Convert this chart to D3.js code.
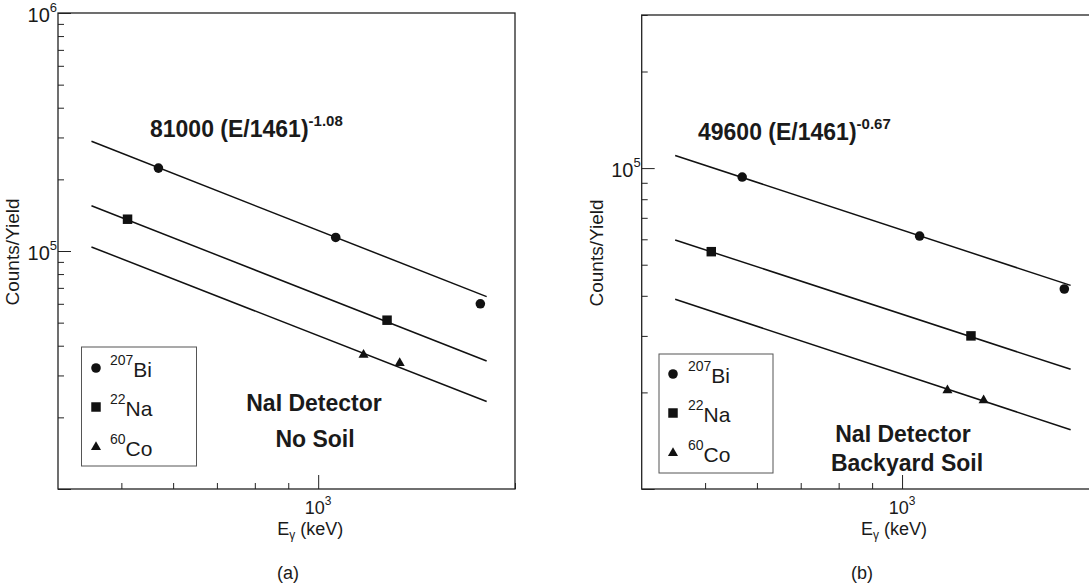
<!DOCTYPE html>
<html lang="en">
<head>
<meta charset="utf-8">
<title>Counts/Yield vs gamma energy</title>
<script src="https://d3js.org/d3.v7.min.js"></script>
<style>
  body { margin: 0; background: #fff; }
  text { font-family: "Liberation Sans", Arial, Helvetica, sans-serif; fill: #1a1a1a; }
</style>
</head>
<body>
<script>
// gamma line energies (keV)
const energyBi = [569.7, 1063.7, 1770.2];
const energyNa = [511.0, 1274.5];
const energyCo = [1173.2, 1332.5];

// (a) NaI detector, no soil - counts/yield
const noSoilBi = [223000, 114000, 60000];
const noSoilNa = [136000, 51200];
const noSoilCo = [36600, 33800];

// (b) NaI detector, backyard soil - counts/yield
const soilBi = [93800, 61400, 42000];
const soilNa = [54900, 30000];
const soilCo = [20300, 18900];

// fitted power-law lines, read at both ends
const fitEnergy = [450, 1810];
const noSoilFitBi = [289000, 64300];
const noSoilFitNa = [155000, 34500];
const noSoilFitCo = [104000, 23300];
const soilFitBi = [109500, 43100];
const soilFitNa = [59700, 23600];
const soilFitCo = [39000, 15300];

// ticks
const xMajorTicks = [1000];
const xMinorTicks = [500, 600, 700, 800, 900, 2000];
const yMajorTicksA = [1e4, 1e5, 1e6];
const yLabelTicksA = [1e5, 1e6];
const yMajorTicksB = [1e4, 1e5];
const yLabelTicksB = [1e5];

const isotopes = [
  { sup: "207", name: "Bi", symbol: d3.symbolCircle, size: 72 },
  { sup: "22", name: "Na", symbol: d3.symbolSquare, size: 90 },
  { sup: "60", name: "Co", symbol: d3.symbolTriangle, size: 44 }
];

const panels = [
  {
    left: 58, top: 13, right: 515, bottom: 489,
    yDomain: [1e4, 1e6], yMajor: yMajorTicksA, yLabels: yLabelTicksA,
    points: [noSoilBi, noSoilNa, noSoilCo],
    fits: [noSoilFitBi, noSoilFitNa, noSoilFitCo],
    formula: { x: 150, y: 137, main: "81000 (E/1461)", sup: "-1.08" },
    legend: { x: 81.5, y: 347, w: 115, h: 119, mx: 96, tx: 110, rows: [377, 416, 456] },
    notes: [{ x: 314, y: 411, t: "NaI Detector" }, { x: 315, y: 447, t: "No Soil" }],
    caption: { x: 288, t: "(a)" }
  },
  {
    left: 641.7, top: 15, right: 1099, bottom: 489,
    yDomain: [1e4, 3e5], yMajor: yMajorTicksB, yLabels: yLabelTicksB,
    points: [soilBi, soilNa, soilCo],
    fits: [soilFitBi, soilFitNa, soilFitCo],
    formula: { x: 698, y: 140, main: "49600 (E/1461)", sup: "-0.67" },
    legend: { x: 659, y: 354, w: 114, h: 119, mx: 673, tx: 688, rows: [383, 422, 462] },
    notes: [{ x: 903, y: 442, t: "NaI Detector" }, { x: 907, y: 471, t: "Backyard Soil" }],
    caption: { x: 862, t: "(b)" }
  }
];

const energies = [energyBi, energyNa, energyCo];

const svg = d3.select("body")
  .append("svg")
    .attr("width", 1089)
    .attr("height", 586)
    .style("background-color", "#FFFFFF");

panels.forEach(function(p) {
  const x = d3.scaleLog().domain([400, 2000]).range([p.left, p.right]);
  const y = d3.scaleLog().domain(p.yDomain).range([p.bottom, p.top]);
  const g = svg.append("g");

  // frame
  g.append("rect")
    .attr("x", p.left).attr("y", p.top)
    .attr("width", p.right - p.left).attr("height", p.bottom - p.top)
    .attr("fill", "none").attr("stroke", "#222").attr("stroke-width", 1.3);

  // y ticks (inward)
  const yMinor = y.ticks().filter(v => !p.yMajor.includes(v));
  g.append("g")
    .attr("transform", `translate(${p.left},0)`)
    .attr("color", "#222")
    .call(d3.axisLeft(y).tickValues(yMinor).tickSize(-6).tickFormat(""))
    .call(a => a.select(".domain").remove());
  g.append("g")
    .attr("transform", `translate(${p.left},0)`)
    .attr("color", "#222")
    .call(d3.axisLeft(y).tickValues(p.yMajor).tickSize(-13).tickFormat(""))
    .call(a => a.select(".domain").remove());

  // x ticks (inward)
  g.append("g")
    .attr("transform", `translate(0,${p.bottom})`)
    .attr("color", "#222")
    .call(d3.axisBottom(x).tickValues(xMinorTicks).tickSize(-6).tickFormat(""))
    .call(a => a.select(".domain").remove());
  g.append("g")
    .attr("transform", `translate(0,${p.bottom})`)
    .attr("color", "#222")
    .call(d3.axisBottom(x).tickValues(xMajorTicks).tickSize(-14).tickFormat(""))
    .call(a => a.select(".domain").remove());

  // power-of-ten labels
  p.yLabels.forEach(function(v) {
    const t = g.append("text")
      .attr("x", p.left - 1).attr("y", y(v) + 9)
      .attr("text-anchor", "end").style("font-size", "20px")
      .text("10");
    t.append("tspan").attr("dy", -10).style("font-size", "13px").text(Math.round(Math.log10(v)));
  });
  xMajorTicks.forEach(function(v) {
    const t = g.append("text")
      .attr("x", x(v)).attr("y", p.bottom + 25)
      .attr("text-anchor", "middle").style("font-size", "18px")
      .text("10");
    t.append("tspan").attr("dy", -9).style("font-size", "12px").text(Math.round(Math.log10(v)));
  });

  // axis titles
  g.append("text")
    .attr("transform", `translate(${p.left - 39},${(p.top + p.bottom) / 2 + 1}) rotate(-90)`)
    .attr("text-anchor", "middle").style("font-size", "19px")
    .text("Counts/Yield");
  const xl = g.append("text")
    .attr("x", x(1000) - 8).attr("y", p.bottom + 46)
    .attr("text-anchor", "middle").style("font-size", "18px")
    .text("E");
  xl.append("tspan").attr("dy", 4).style("font-size", "12px").text("γ");
  xl.append("tspan").attr("dy", -4).text(" (keV)");

  // fit lines
  const line = d3.line().x(d => x(d[0])).y(d => y(d[1]));
  p.fits.forEach(function(f) {
    g.append("path")
      .datum(fitEnergy.map((e, i) => [e, f[i]]))
      .attr("d", line)
      .attr("fill", "none").attr("stroke", "#111").attr("stroke-width", 1.5);
  });

  // data points
  p.points.forEach(function(vals, k) {
    const iso = isotopes[k];
    g.selectAll(null)
      .data(vals.map((v, i) => [energies[k][i], v]))
      .join("path")
      .attr("transform", d => `translate(${x(d[0])},${y(d[1])})`)
      .attr("d", d3.symbol(iso.symbol, iso.size))
      .attr("fill", "#111");
  });

  // formula
  const ft = g.append("text")
    .attr("x", p.formula.x).attr("y", p.formula.y)
    .style("font-size", "23px").style("font-weight", 700)
    .text(p.formula.main);
  ft.append("tspan").attr("dy", -11).style("font-size", "15px").text(p.formula.sup);

  // legend
  const L = p.legend;
  g.append("rect")
    .attr("x", L.x).attr("y", L.y).attr("width", L.w).attr("height", L.h)
    .attr("fill", "#fff").attr("stroke", "#555").attr("stroke-width", 1);
  isotopes.forEach(function(iso, i) {
    g.append("path")
      .attr("transform", `translate(${L.mx},${L.rows[i] - 9})`)
      .attr("d", d3.symbol(iso.symbol, iso.size))
      .attr("fill", "#111");
    const lt = g.append("text")
      .attr("x", L.tx).attr("y", L.rows[i] - 12)
      .style("font-size", "14px")
      .text(iso.sup);
    lt.append("tspan").attr("dy", 12).style("font-size", "21px").text(iso.name);
  });

  // detector notes
  p.notes.forEach(function(n) {
    g.append("text")
      .attr("x", n.x).attr("y", n.y)
      .attr("text-anchor", "middle")
      .style("font-size", "23px").style("font-weight", 700)
      .text(n.t);
  });

  // panel caption
  g.append("text")
    .attr("x", p.caption.x).attr("y", 579)
    .attr("text-anchor", "middle").style("font-size", "18px")
    .text(p.caption.t);
});
</script>
</body>
</html>
